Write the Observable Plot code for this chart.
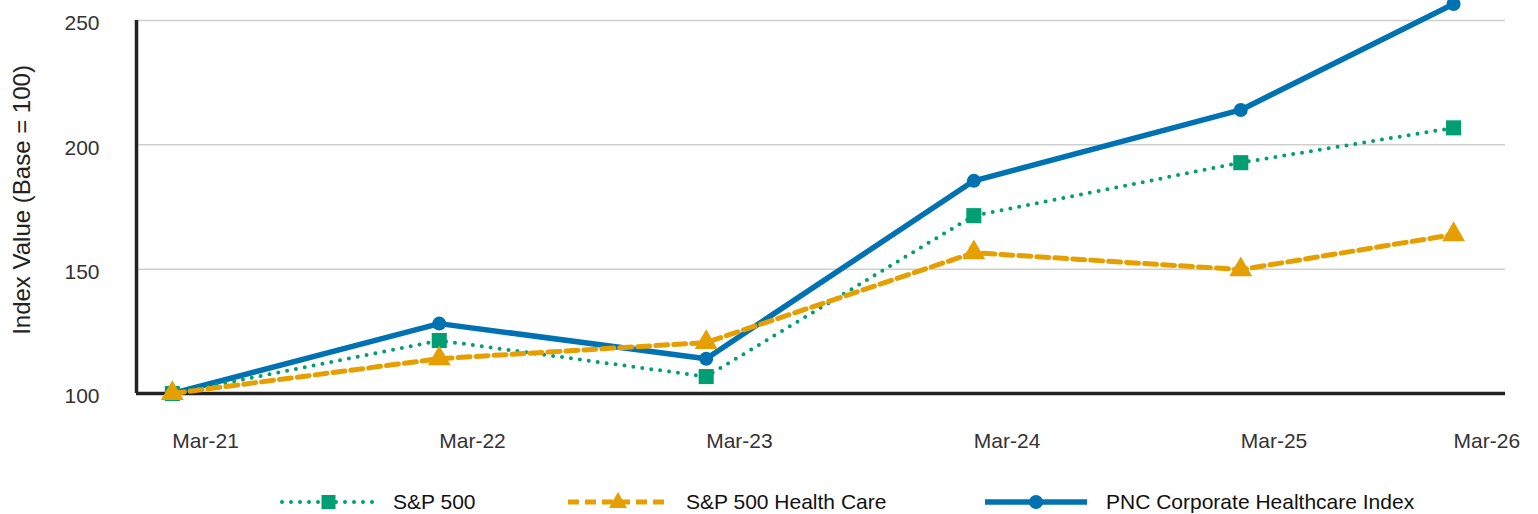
<!DOCTYPE html>
<html><head><meta charset="utf-8">
<script src="https://cdn.jsdelivr.net/npm/d3@7"></script>
<script src="https://cdn.jsdelivr.net/npm/@observablehq/plot@0.6"></script>
<style>
body{margin:0;background:#fff;font-family:"Liberation Sans",Arial,sans-serif;}
#wrap{position:relative;width:1538px;height:514px;overflow:hidden;background:#fff;}
#chart svg{display:block;}
.sw{position:absolute;top:489px;}
.lt{position:absolute;top:489px;height:26px;line-height:26px;font-size:21px;color:#111;white-space:nowrap;}
</style></head><body><div id="wrap"><div id="chart"></div><div id="legend"></div></div>
<script>
const dates = ["2021-03-31","2022-03-31","2023-03-31","2024-03-31","2025-03-31","2026-01-16"];
const tickLabels = ["Mar-21","Mar-22","Mar-23","Mar-24","Mar-25","Mar-26"];
const seriesNames = ["S&P 500","S&P 500 Health Care","PNC Corporate Healthcare Index"];
const sp500 = [100,121.3,106.8,171.5,192.8,206.8];
const spHealth = [100,114.0,120.5,156.6,149.8,163.9];
const pnc = [100,128.1,114.0,185.5,214.0,256.6];
const yTicks = [100,150,200,250];
const gridValues = [150,200,250];
const yTitle = "Index Value (Base = 100)";

const colors = {green:"#009E73", orange:"#E69F00", blue:"#0072B2"};
const tickDates = dates.map(d => new Date(d));
const labelMap = new Map(tickDates.map((d,i)=>[+d, tickLabels[i]]));
const rows = (vals, name) => dates.map((d,i)=>({date:new Date(d), value:vals[i], series:name}));
const spRows = rows(sp500, seriesNames[0]);
const hcRows = rows(spHealth, seriesNames[1]);
const pncRows = rows(pnc, seriesNames[2]);
const xDomain = [new Date("2021-02-10"), new Date("2026-03-28")];

const chart = Plot.plot({
  width: 1538, height: 470,
  marginLeft: 136, marginRight: 33, marginTop: 0, marginBottom: 77,
  style: {fontFamily: '"Liberation Sans", Arial, sans-serif', background: "#fff"},
  x: {type: "utc", domain: xDomain},
  y: {domain: [100, 258]},
  marks: [
    Plot.ruleY(gridValues, {stroke: "#cfcfcf", strokeWidth: 1.5}),
    Plot.ruleX([xDomain[0]], {y1: 100, y2: 250, stroke: "#222", strokeWidth: 3.5}),
    Plot.ruleY([100], {stroke: "#222", strokeWidth: 3.5}),
    Plot.line(pncRows, {x: "date", y: "value", stroke: colors.blue, strokeWidth: 5.5}),
    Plot.dot(pncRows, {x: "date", y: "value", fill: colors.blue, r: 7, symbol: "circle"}),
    Plot.line(spRows, {x: "date", y: "value", stroke: colors.green, strokeWidth: 4, strokeDasharray: "0 9", strokeLinecap: "round"}),
    Plot.dot(spRows, {x: "date", y: "value", fill: colors.green, r: 8.5, symbol: "square"}),
    Plot.line(hcRows, {x: "date", y: "value", stroke: colors.orange, strokeWidth: 5, strokeDasharray: "12 6"}),
    Plot.dot(hcRows, {x: "date", y: "value", fill: colors.orange, r: 8.5, symbol: "triangle"}),
    Plot.axisY(yTicks, {tickSize: 0, tickPadding: 37, fontSize: 21, fill: "#333", dy: 3, label: null}),
    Plot.axisX(tickDates, {tickSize: 0, tickPadding: 40, fontSize: 21, fill: "#333", textAnchor: "start", label: null, tickFormat: d => labelMap.get(+d)}),
    Plot.text([yTitle], {frameAnchor: "left", textAnchor: "middle", dx: -114, dy: 3, rotate: -90, fontSize: 24, fill: "#222"})
  ]
});
document.getElementById("chart").appendChild(chart);

// legend
const leg = document.getElementById("legend");
const items = [
  {name: seriesNames[0], color: colors.green, left: 280, w: 97, tx: 393, kind: "square"},
  {name: seriesNames[1], color: colors.orange, left: 568, w: 100, tx: 686, kind: "triangle"},
  {name: seriesNames[2], color: colors.blue, left: 985, w: 102, tx: 1106, kind: "circle"}
];
items.forEach(it => {
  const cy = 13, cx = it.w / 2;
  let line, marker;
  if (it.kind === "square") {
    line = `<line x1="2" x2="${it.w}" y1="${cy}" y2="${cy}" stroke="${it.color}" stroke-width="4" stroke-dasharray="0 9" stroke-linecap="round"/>`;
    marker = `<rect x="${cx-7}" y="${cy-7}" width="14" height="14" fill="${it.color}"/>`;
  } else if (it.kind === "triangle") {
    line = `<line x1="0" x2="${it.w}" y1="${cy}" y2="${cy}" stroke="${it.color}" stroke-width="5" stroke-dasharray="11 6"/>`;
    marker = `<path d="M${cx},${cy-10} L${cx+9},${cy+6} L${cx-9},${cy+6} Z" fill="${it.color}"/>`;
  } else {
    line = `<line x1="0" x2="${it.w}" y1="${cy}" y2="${cy}" stroke="${it.color}" stroke-width="5.5"/>`;
    marker = `<circle cx="${cx}" cy="${cy}" r="7" fill="${it.color}"/>`;
  }
  const sw = document.createElement("div");
  sw.className = "sw"; sw.style.left = it.left + "px";
  sw.innerHTML = `<svg width="${it.w}" height="26">${line}${marker}</svg>`;
  leg.appendChild(sw);
  const t = document.createElement("div");
  t.className = "lt"; t.style.left = it.tx + "px"; t.textContent = it.name;
  leg.appendChild(t);
});
</script>
</body></html>
